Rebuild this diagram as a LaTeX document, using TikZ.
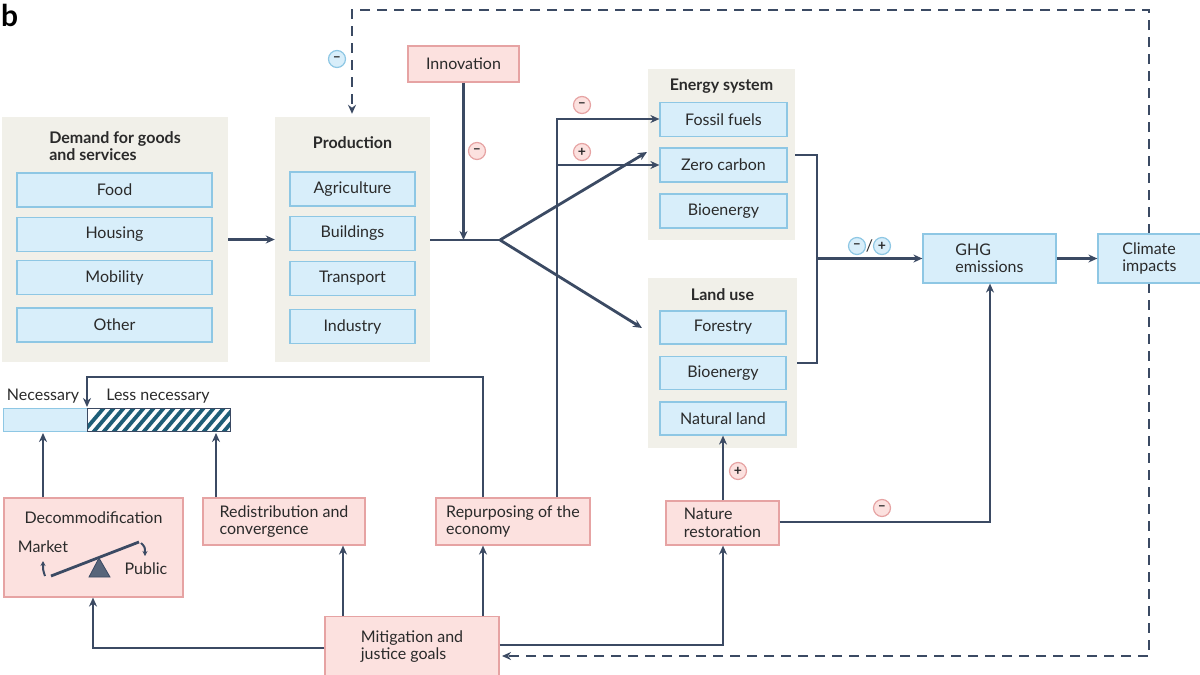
\documentclass[tikz,border=0pt]{standalone}
\usepackage{fontspec}
\setmainfont{Lato}
\usetikzlibrary{arrows.meta,calc}
\definecolor{beige}{HTML}{F1F0E9}
\definecolor{bluef}{HTML}{D8EEFA}
\definecolor{blued}{HTML}{8EC7E4}
\definecolor{pinkf}{HTML}{FCE1DF}
\definecolor{pinkd}{HTML}{E6A3A3}
\definecolor{ink}{HTML}{3B4A63}
\definecolor{txt}{HTML}{2A2A2A}
\definecolor{stripe}{HTML}{1E5E78}
\newcommand\fs{\fontsize{16}{17.5}\selectfont}
\begin{document}
\begin{tikzpicture}[x=1pt,y=-1pt,
  grp/.style={fill=beige,draw=none,inner sep=0pt},
  bbox/.style={fill=bluef,draw=blued,line width=1.2pt,inner sep=0pt,font=\fs,text=txt},
  pbox/.style={fill=pinkf,draw=pinkd,line width=1.2pt,inner sep=0pt,font=\fs,text=txt,align=left},
  ttl/.style={font=\fs\bfseries,text=txt,align=left},
  lbl/.style={font=\fs,text=txt},
  ln/.style={draw=ink,line width=2.8pt},
  arr/.style={draw=ink,line width=2.8pt,-{Stealth[length=9pt,width=8pt]}},
  dsh/.style={draw=ink,line width=2.8pt,dash pattern=on 10pt off 7pt,-{Stealth[length=9pt,width=8pt]}},
  badge/.style={circle,minimum size=17pt,inner sep=0pt,line width=1.2pt,font=\fontsize{14}{14}\selectfont\bfseries,text=txt},
  pb/.style={badge,fill=pinkf,draw=pinkd},
  bb/.style={badge,fill=bluef,draw=blued}]
\useasboundingbox (0,0) rectangle (1200,675);

% label
\node[font=\fontsize{30}{30}\selectfont\bfseries,anchor=west,text=black,inner sep=0pt] (blabel) at (1,15) {b};

\coordinate (dtop) at (1149,10);
\coordinate (dleft) at (352,10);
\coordinate (dbot) at (1149,656);

% groups
\node[grp,minimum width=226pt,minimum height=245pt] (dem) at (115,239.5) {};
\node[ttl] (demt) at (115,146) {Demand for goods\\and services};
\node[bbox,minimum width=195pt,minimum height=34pt] (food) at (114.5,190) {Food};
\node[bbox,minimum width=195pt,minimum height=34pt] (hous) at (114.5,234.5) {Housing};
\node[bbox,minimum width=195pt,minimum height=34pt] (mob) at (114.5,277.5) {Mobility};
\node[bbox,minimum width=195pt,minimum height=34pt] (oth) at (114.5,325) {Other};

\node[grp,minimum width=155pt,minimum height=245pt] (prod) at (352.5,239.5) {};
\node[ttl] (prodt) at (352.5,143) {Production};
\node[bbox,minimum width=125pt,minimum height=34pt] (agri) at (352.5,189) {Agriculture};
\node[bbox,minimum width=125pt,minimum height=34pt] (bldg) at (352.5,233.5) {Buildings};
\node[bbox,minimum width=125pt,minimum height=34pt] (trans) at (352.5,278.5) {Transport};
\node[bbox,minimum width=125pt,minimum height=34pt] (ind) at (352.5,326.5) {Industry};

\node[pbox,minimum width=111pt,minimum height=36pt] (innov) at (463.5,64) {Innovation};

\node[grp,minimum width=147pt,minimum height=171pt] (energy) at (721.5,154.5) {};
\node[ttl] (energyt) at (721.5,86) {Energy system};
\node[bbox,minimum width=127pt,minimum height=34pt] (fossil) at (723.5,119.5) {Fossil fuels};
\node[bbox,minimum width=127pt,minimum height=34pt] (zero) at (723.5,165) {Zero carbon};
\node[bbox,minimum width=127pt,minimum height=34pt] (ebio) at (723.5,211) {Bioenergy};

\node[grp,minimum width=149pt,minimum height=170pt] (land) at (722.5,363) {};
\node[ttl] (landt) at (722.5,295) {Land use};
\node[bbox,minimum width=126pt,minimum height=33pt] (forest) at (723,327.5) {Forestry};
\node[bbox,minimum width=126pt,minimum height=33pt] (lbio) at (723,373) {Bioenergy};
\node[bbox,minimum width=126pt,minimum height=33pt] (natl) at (723,418.5) {Natural land};

% dashed lines
\draw[dsh,shorten >=3pt] (1149,234) -- (dtop) -- (dleft) -- (prod.north -| dleft);
\draw[dsh,shorten >=3pt] (1149,283) -- (dbot) -- (499,656);

\node[bbox,align=left,minimum width=133pt,minimum height=49pt] (ghg) at (989.5,258.5) {GHG\\emissions};
\node[bbox,align=left,minimum width=103pt,minimum height=49pt] (clim) at (1149.5,258.5) {Climate\\impacts};

% bottom boxes
\node[pbox,minimum width=179pt,minimum height=99pt] (decom) at (93.5,547.5) {};
\node[lbl] (decomt) at (93.5,518) {Decommodification};
\node[pbox,minimum width=162pt,minimum height=47pt] (redis) at (284,521.5) {Redistribution and\\convergence};
\node[pbox,minimum width=154pt,minimum height=47pt] (rep) at (513,521.5) {Repurposing of the\\economy};
\node[pbox,minimum width=113pt,minimum height=44pt] (nat) at (722.5,523) {Nature\\restoration};
\node[pbox,minimum width=174pt,minimum height=60pt] (mit) at (412,646.5) {Mitigation and\\justice goals};

% necessary bar
\node[fill=bluef,draw=blued,line width=1pt,inner sep=0pt,minimum width=84pt,minimum height=23pt] (nec) at (45,419.5) {};
\begin{scope}
\clip (87,408) rectangle (230,431);
\fill[white] (87,408) rectangle (230,431);
\foreach \i in {0,...,17} {
  \draw[stripe,line width=3.8pt] ({80+10*\i},436) -- ({80+10*\i+28},403);
}
\end{scope}
\node[draw=ink,line width=1pt,inner sep=0pt,minimum width=143pt,minimum height=23pt] (less) at (158.5,419.5) {};
\node[lbl] (nect) at (43,396) {Necessary};
\node[lbl] (lesst) at (158,396) {Less necessary};

% seesaw
\coordinate (sl) at (51,576);
\coordinate (sr) at (139,542);
\draw[ink,line width=2.8pt] (sl) -- (sr);
\fill[ink!85,draw=ink,line width=0.8pt] (99,558) -- (89,577) -- (110,577) -- cycle;
\node[lbl] (mkt) at (43,547) {Market};
\node[lbl] (pub) at (146,569) {Public};
\draw[ink,line width=2pt,-{Stealth[length=5pt,width=5pt]}] (45,576) .. controls (43,570) .. (43,561);
\draw[ink,line width=2pt,-{Stealth[length=5pt,width=5pt]}] (141,543) .. controls (145,547) .. (145,556);

% main flow connectors
\draw[arr] (dem.east) -- (prod.west);
\coordinate (split) at (500,240);
\draw[ln] (prod.east |- split) -- (split);
\draw[arr] (innov.south) -- (innov.south |- split);
\coordinate (etip) at (647,152);
\coordinate (ltip) at (642,328);
\draw[arr] (split) -- (etip);
\draw[arr] (split) -- (ltip);

% repurposing
\coordinate (rv) at (557,119);
\draw[arr] (rep.north -| rv) -- (rv) -- (fossil.west |- rv);
\draw[arr] (rv |- zero.west) -- (zero.west);

% energy/land to GHG
\coordinate (j1) at (817,155);
\coordinate (j2) at (817,363);
\draw[ln] (energy.east |- j1) -- (j1) -- (j2) -- (land.east |- j2);
\draw[arr] (j1 |- ghg.west) -- (ghg.west);
\draw[arr] (ghg.east) -- (clim.west);

% bottom connectors
\coordinate (rc1) at (483,377);
\coordinate (rc2) at (87,377);
\draw[arr] (rep.north -| rc1) -- (rc1) -- (rc2) -- (87,407);
\draw[arr] (decom.north -| nect) -- (nect |- 0,433);
\draw[arr] (redis.north -| 216,0) -- (216,433);
\draw[arr] (mit.north -| 343,0) -- (redis.south -| 343,0);
\draw[arr] (mit.north -| rc1) -- (rep.south -| rc1);
\coordinate (ml) at (93,648);
\draw[arr] (mit.west |- ml) -- (ml) -- (decom.south -| ml);
\coordinate (mr) at (723,645);
\draw[arr] (mit.east |- mr) -- (mr) -- (nat.south -| mr);
\draw[arr] (nat.north -| mr) -- (natl.south -| mr);
\coordinate (nr) at (990,522);
\draw[arr] (nat.east |- nr) -- (nr) -- (ghg.south -| nr);

% badges
\node[bb] (b1) at (337,59) {–};
\node[pb] (b2) at (477,151) {–};
\node[pb] (b3) at (582,105) {–};
\node[pb] (b4) at (582,152) {+};
\node[bb] (b5) at (857,246) {–};
\node[lbl] (slash) at (869.5,246) {/};
\node[bb] (b6) at (882,246) {+};
\node[pb] (b7) at (738,471) {+};
\node[pb] (b8) at (882,508) {–};
\end{tikzpicture}
\end{document}
